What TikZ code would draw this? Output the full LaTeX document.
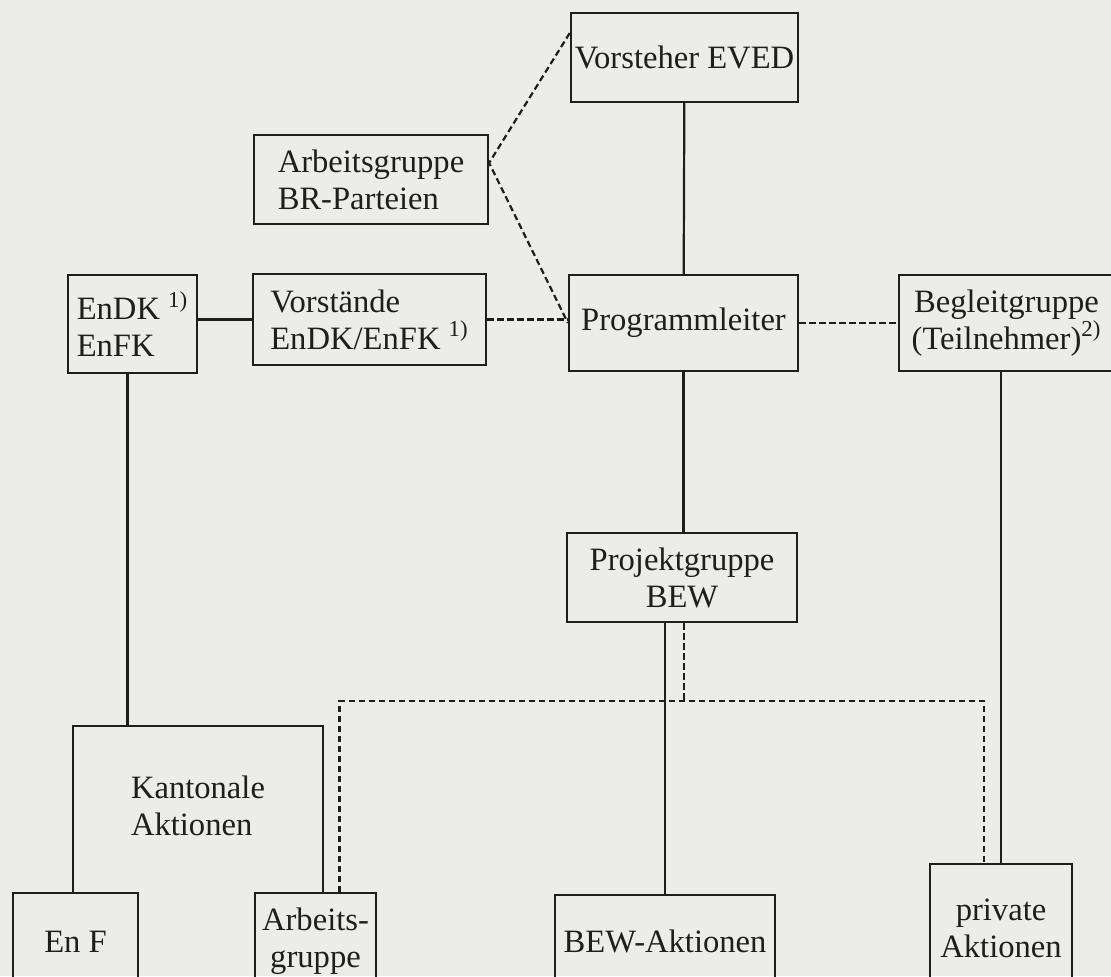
\documentclass[tikz,border=0pt]{standalone}
\usepackage{fontspec}
\setmainfont{Liberation Serif}
\usetikzlibrary{positioning, calc}
\definecolor{paper}{RGB}{236,236,233}
\definecolor{ink}{RGB}{30,30,30}

\begin{document}
\begin{tikzpicture}[
    x=0.5pt, y=-0.5pt,
    box/.style={draw=ink, line width=1.1pt, text=ink, inner sep=2pt, font=\fontsize{16.3}{18.5}\selectfont},
    sline/.style={draw=ink, line width=1.1pt},
    dline/.style={draw=ink, line width=1.1pt, dash pattern=on 3.2pt off 1.8pt}
]
    % Paper
    \useasboundingbox (0,0) rectangle (1111,976);
    \clip (0,0) rectangle (1111,976);
    \fill[paper] (0,0) rectangle (1111,976);

    % Upper level
    \node[box, minimum width=113.5pt, minimum height=44.5pt] (eved) at (684.5,57.5) {Vorsteher EVED};
    \node[box, align=left, minimum width=117pt, minimum height=44.5pt] (brp) at (371,179.5) {Arbeitsgruppe\\BR-Parteien};

    % Second row
    \node[box, align=left, minimum width=64.5pt, minimum height=49pt] (endk) at (132.5,324) {EnDK \textsuperscript{1)}\\EnFK};
    \node[box, align=left, minimum width=116.5pt, minimum height=45.5pt] (vorst) at (369.5,319.5) {Vorstände\\EnDK/EnFK \textsuperscript{1)}};
    \node[box, minimum width=114.5pt, minimum height=48pt] (prog) at (683.5,323) {Programmleiter};
    \node[box, align=center, minimum width=107.5pt, minimum height=48pt] (begl) at (1006.5,323) {Begleitgruppe\\(Teilnehmer)\textsuperscript{2)}};

    % Projects
    \node[box, align=center, minimum width=115pt, minimum height=44.5pt] (projekt) at (682,577.5) {Projektgruppe\\BEW};
    \node[box, draw=none, align=left, minimum width=124pt, minimum height=79pt] (kant) at (198,806) {Kantonale\\Aktionen};

    % Actions
    \node[box, minimum width=62.5pt, minimum height=48.5pt] (enf) at (75.5,941.5) {En F};
    \node[box, align=center, minimum width=60.5pt, minimum height=48.5pt] (ag) at (315.5,941.5) {Arbeits-\\gruppe};
    \node[box, minimum width=110pt, minimum height=46pt] (bewa) at (665,941) {BEW-Aktionen};
    \node[box, align=center, minimum width=71pt, minimum height=64pt] (priv) at (1001,928) {private\\Aktionen};

    \coordinate (split) at (684,701);

    % Solid lines
    \draw[sline] (eved) -- (prog);
    \draw[sline] (prog) -- (prog.south |- projekt.north);
    \draw[sline] (vorst.west -| endk.east) -- (vorst.west);
    \draw[sline] ([xshift=-2.5pt]endk.south) -- ([xshift=-2.5pt]endk.south |- kant.north);
    \draw[sline] (enf.north -| kant.west) |- (kant.north) -| (ag.north -| kant.east);
    \draw[sline] (bewa.north) -- (bewa.north |- projekt.south);
    \draw[sline] (priv.north) -- (priv.north |- begl.south);

    % Dashed lines
    \draw[dline] (eved.168) -- (brp.8) -- (prog.west);
    \draw[dline] (vorst.east) -- (vorst.east -| prog.west);
    \draw[dline] (prog.east) -- (begl.west);
    \draw[dline] (projekt.south -| split) -- (split);
    \draw[dline] ([xshift=12pt]ag.north) |- (split) -| ([xshift=-8.5pt]priv.north);
\end{tikzpicture}
\end{document}
